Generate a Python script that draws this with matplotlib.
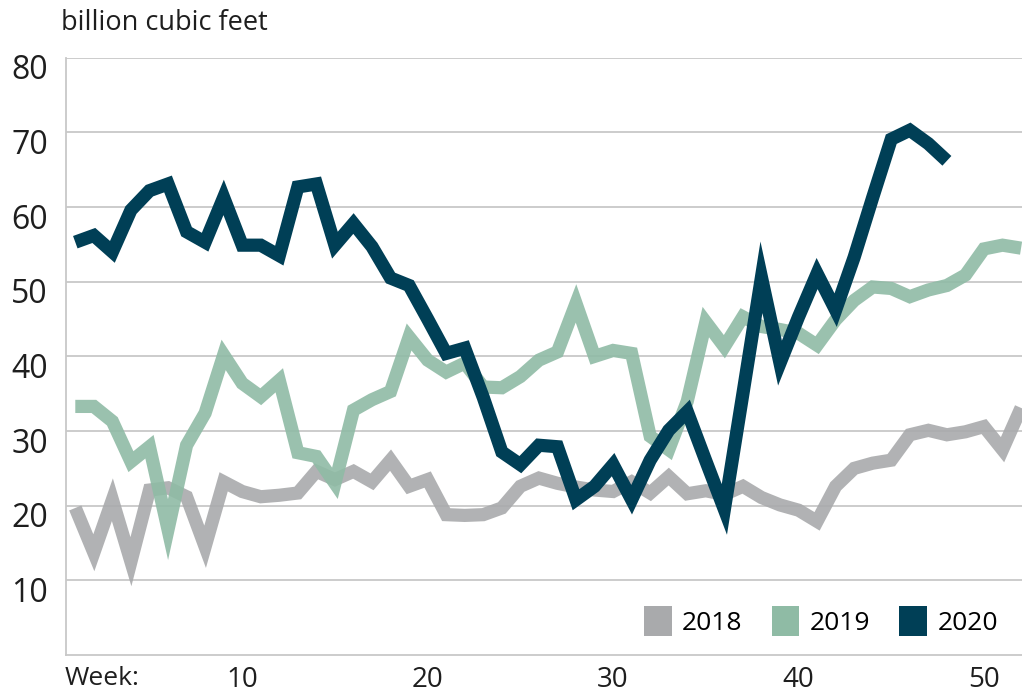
import matplotlib.pyplot as plt
from matplotlib.patches import Patch
from matplotlib.transforms import ScaledTranslation

weeks = list(range(1, 53))

y2018 = [19.7, 13.7, 20.8, 12.5, 22.1, 22.4, 21.2, 14.5, 23.2, 21.9,
         21.2, 21.4, 21.7, 24.6, 23.5, 24.6, 23.2, 26.1, 22.6, 23.5,
         18.8, 18.7, 18.8, 19.7, 22.6, 23.7, 23.0, 22.5, 22.1, 21.9,
         23.2, 21.7, 23.9, 21.6, 22.0, 21.5, 22.6, 21.1, 20.1, 19.4,
         17.9, 22.6, 25.0, 25.7, 26.1, 29.5, 30.1, 29.5, 29.9, 30.6,
         27.5, 33.1]

y2019 = [33.3, 33.3, 31.3, 25.9, 27.9, 16.8, 28.1, 32.4, 40.2, 36.4,
         34.6, 36.8, 27.1, 26.6, 23.0, 32.8, 34.2, 35.3, 42.6, 39.5,
         37.9, 39.1, 35.9, 35.8, 37.3, 39.5, 40.6, 47.1, 40.0, 40.8,
         40.4, 29.3, 27.5, 34.0, 44.6, 41.3, 45.3, 44.0, 43.6, 43.1,
         41.5, 44.9, 47.5, 49.3, 49.1, 48.0, 48.9, 49.5, 50.9, 54.4,
         54.9, 54.5]

y2020 = [55.3, 56.2, 54.0, 59.6, 62.2, 63.1, 56.7, 55.3, 61.3, 54.9,
         54.9, 53.5, 62.7, 63.1, 54.9, 57.8, 54.7, 50.5, 49.5, 45.0,
         40.4, 41.1, 34.5, 27.2, 25.5, 28.1, 27.9, 20.8, 22.6, 25.5,
         20.8, 26.1, 30.1, 32.6, 26.0, 19.5, 35.0, 50.6, 39.1, 45.3,
         51.1, 46.2, 53.3, 61.3, 69.1, 70.3, 68.5, 66.2]

series = [("2018", y2018, "#a9aaac"), ("2019", y2019, "#8fbba5"),
          ("2020", y2020, "#003f56")]

plt.rcParams['font.family'] = ['Open Sans', 'DejaVu Sans']
txt = '#1e1e1e'

fig = plt.figure(figsize=(10.22, 6.94), dpi=100)
ax = fig.add_axes([0.0646, 0.0562, 0.9354, 0.8605])

for name, vals, col in series:
    a = 1.0 if name == "2020" else 0.9
    ax.plot(weeks[:len(vals)], vals, color=col, lw=9.5, alpha=a,
            solid_joinstyle='miter', solid_capstyle='butt')

ax.set_xlim(0.5, 52.05)
ax.set_ylim(0, 80)
ax.set_yticks(range(10, 81, 10))
ax.set_xticks([10, 20, 30, 40, 50])
ax.tick_params(length=0, colors=txt)
ax.tick_params(axis='y', labelsize=23, pad=13)
ax.tick_params(axis='x', labelsize=20, pad=8)
ax.grid(axis='y', color='#c8c8c8', lw=1.3)
ax.set_axisbelow(True)
for s in ['top', 'right']:
    ax.spines[s].set_visible(False)
for s in ['left', 'bottom']:
    ax.spines[s].set_color('#c8c8c8')
    ax.spines[s].set_linewidth(1.3)

# y labels sit a little below their gridlines
shift = ScaledTranslation(0, -0.09, fig.dpi_scale_trans)
for lab in ax.get_yticklabels():
    lab.set_transform(lab.get_transform() + shift)

fig.text(0.060, 0.967, "billion cubic feet", fontsize=19.5, color=txt,
         va='center', ha='left')
fig.text(0.063, 0.022, "Week:", fontsize=19, color=txt, va='center', ha='left')

handles = [Patch(facecolor=c, edgecolor='none') for _, _, c in series]
ax.legend(handles, [n for n, _, _ in series], loc='lower right', ncol=3,
          frameon=False, fontsize=19, handlelength=1.05, handleheight=1.4,
          handletextpad=0.4, columnspacing=1.1, bbox_to_anchor=(1.0, -0.008))

fig.savefig("out.png", dpi=100)
